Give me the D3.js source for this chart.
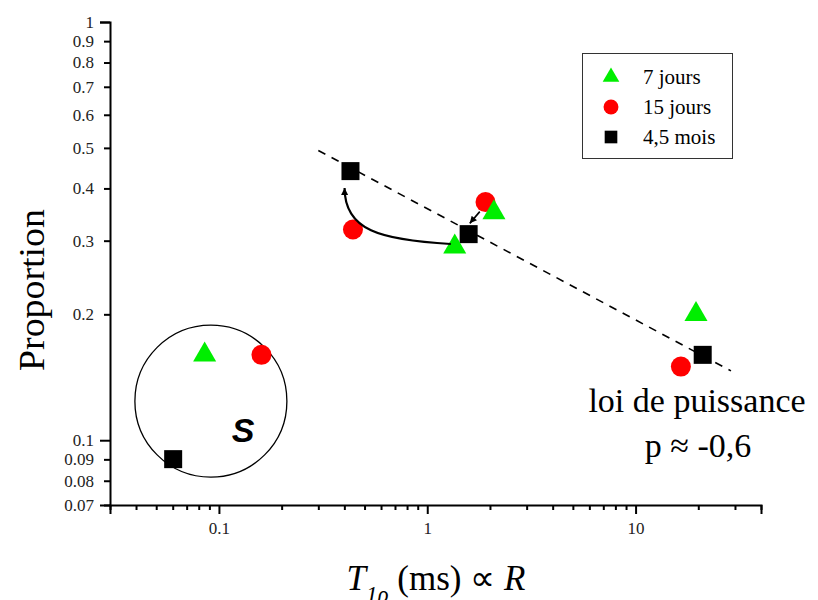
<!DOCTYPE html>
<html>
<head>
<meta charset="utf-8">
<script src="https://cdn.jsdelivr.net/npm/d3@7"></script>
<style>
  body { margin: 0; background: #fff; }
  svg { display: block; }
  .axis path, .axis line { stroke: #000; stroke-width: 2; }
</style>
</head>
<body>
<svg id="chart" width="818" height="600"></svg>
<script>
// tick values
const xTicks = [0.03, 0.04, 0.05, 0.06, 0.07, 0.08, 0.09, 0.1, 0.2, 0.3, 0.4, 0.5, 0.6, 0.7, 0.8, 0.9,
                1, 2, 3, 4, 5, 6, 7, 8, 9, 10, 20, 30, 40];
const xMajor = [0.1, 1, 10];
const yTicks = [0.07, 0.08, 0.09, 0.1, 0.2, 0.3, 0.4, 0.5, 0.6, 0.7, 0.8, 0.9, 1];
const yMajor = [0.1, 1];

// series
const seriesNames = ["7 jours", "15 jours", "4,5 mois"];
const jours7X = [0.0854, 1.355, 2.09, 19.5];
const jours7Y = [0.160, 0.290, 0.350, 0.200];
const jours15X = [0.160, 0.440, 1.904, 16.5];
const jours15Y = [0.160, 0.319, 0.371, 0.150];
const mois45X = [0.0603, 0.428, 1.58, 21.0];
const mois45Y = [0.0901, 0.440, 0.311, 0.160];

// power law fit line
const fitX = [0.3, 28.7];
const fitY = [0.493, 0.1465];

// annotations (data units)
const clusterCenter = [0.0915, 0.124];
const curveArrowX = [1.297, 0.591, 0.401, 0.401];
const curveArrowY = [0.2946, 0.301, 0.318, 0.401];
const smallArrowX = [1.787, 1.60];
const smallArrowY = [0.352, 0.330];

const svg = d3.select("#chart");

const x = d3.scaleLog().domain([0.03, 40]).range([110, 761]);
const y = d3.scaleLog().domain([0.07, 1]).range([505, 22]);

// x axis
const xAxis = svg.append("g")
    .attr("class", "axis")
    .attr("transform", "translate(0,505)")
    .call(d3.axisBottom(x)
        .tickValues(xTicks)
        .tickSizeOuter(0)
        .tickSize(9)
        .tickPadding(8)
        .tickFormat(d => xMajor.includes(d) ? String(d) : ""));
xAxis.attr("font-family", "Liberation Serif, serif").attr("font-size", 17);
xAxis.selectAll(".tick text").attr("fill", "#222");
xAxis.selectAll(".tick line")
    .attr("y2", d => xMajor.includes(d) ? 9 : 5);

// y axis
const yAxis = svg.append("g")
    .attr("class", "axis")
    .attr("transform", "translate(110,0)")
    .call(d3.axisLeft(y)
        .tickValues(yTicks)
        .tickSizeOuter(0)
        .tickSize(10)
        .tickPadding(6)
        .tickFormat(d => String(d)));
yAxis.attr("font-family", "Liberation Serif, serif").attr("font-size", 17);
yAxis.selectAll(".tick text").attr("fill", "#222");
yAxis.selectAll(".tick line")
    .attr("x2", d => yMajor.includes(d) ? -10 : -6);

// axis titles
svg.append("text")
    .attr("transform", "translate(44,290) rotate(-90)")
    .attr("text-anchor", "middle")
    .attr("font-family", "Liberation Serif, serif")
    .attr("font-size", 35)
    .attr("textLength", 162)
    .attr("lengthAdjust", "spacingAndGlyphs")
    .text("Proportion");

const xTitle = svg.append("text")
    .attr("x", 436)
    .attr("y", 590)
    .attr("text-anchor", "middle")
    .attr("font-family", "Liberation Serif, serif")
    .attr("font-size", 35);
xTitle.append("tspan").attr("font-style", "italic").text("T");
xTitle.append("tspan").attr("font-style", "italic").attr("font-size", 23).attr("dy", 12).text("1ρ");
xTitle.append("tspan").attr("dy", -12).text(" (ms) ∝ ");
xTitle.append("tspan").attr("font-style", "italic").text("R");

// arrow marker
const defs = svg.append("defs");
defs.append("marker")
    .attr("id", "head")
    .attr("markerUnits", "userSpaceOnUse")
    .attr("viewBox", "0 0 10 10")
    .attr("refX", 10)
    .attr("refY", 5)
    .attr("markerWidth", 8)
    .attr("markerHeight", 7)
    .attr("orient", "auto")
    .append("path")
    .attr("d", "M0,0 L10,5 L0,10 Z")
    .attr("fill", "#000");

// fit line
svg.append("line")
    .attr("x1", x(fitX[0])).attr("y1", y(fitY[0]))
    .attr("x2", x(fitX[1])).attr("y2", y(fitY[1]))
    .attr("stroke", "#000")
    .attr("stroke-width", 1.6)
    .attr("stroke-dasharray", "8,7");

// cluster circle
svg.append("circle")
    .attr("cx", x(clusterCenter[0]))
    .attr("cy", y(clusterCenter[1]))
    .attr("r", 76)
    .attr("fill", "none")
    .attr("stroke", "#000")
    .attr("stroke-width", 1.3);

svg.append("text")
    .attr("x", 243)
    .attr("y", 442)
    .attr("text-anchor", "middle")
    .attr("font-family", "Liberation Sans, Arial, sans-serif")
    .attr("font-weight", "bold")
    .attr("font-style", "italic")
    .attr("font-size", 34)
    .text("S");

// points
const sqSize = 18;
svg.append("g").selectAll("rect")
    .data(mois45X.map((v, i) => [v, mois45Y[i]]))
    .join("rect")
    .attr("x", d => x(d[0]) - sqSize / 2)
    .attr("y", d => y(d[1]) - sqSize / 2)
    .attr("width", sqSize)
    .attr("height", sqSize)
    .attr("fill", "#000");

svg.append("g").selectAll("circle")
    .data(jours15X.map((v, i) => [v, jours15Y[i]]))
    .join("circle")
    .attr("cx", d => x(d[0]))
    .attr("cy", d => y(d[1]))
    .attr("r", 10)
    .attr("fill", "#ff0000");

const tri = d3.symbol().type(d3.symbolTriangle).size(230);
svg.append("g").selectAll("path")
    .data(jours7X.map((v, i) => [v, jours7Y[i]]))
    .join("path")
    .attr("d", tri)
    .attr("transform", d => `translate(${x(d[0])},${y(d[1])})`)
    .attr("fill", "#00ee00");

// arrows
const cp = curveArrowX.map((v, i) => [x(v), y(curveArrowY[i])]);
svg.append("path")
    .attr("d", `M${cp[0]} C${cp[1]} ${cp[2]} ${cp[3]}`)
    .attr("fill", "none")
    .attr("stroke", "#000")
    .attr("stroke-width", 2.2)
    .attr("marker-end", "url(#head)");

svg.append("line")
    .attr("x1", x(smallArrowX[0])).attr("y1", y(smallArrowY[0]))
    .attr("x2", x(smallArrowX[1])).attr("y2", y(smallArrowY[1]))
    .attr("stroke", "#000")
    .attr("stroke-width", 1.6)
    .attr("marker-end", "url(#head)");

// power law note
svg.append("text")
    .attr("x", 697)
    .attr("y", 412)
    .attr("text-anchor", "middle")
    .attr("font-family", "Liberation Serif, serif")
    .attr("font-size", 34)
    .text("loi de puissance");
svg.append("text")
    .attr("x", 698)
    .attr("y", 457)
    .attr("text-anchor", "middle")
    .attr("font-family", "Liberation Serif, serif")
    .attr("font-size", 34)
    .text("p ≈ -0,6");

// legend
const legend = svg.append("g");
legend.append("rect")
    .attr("x", 582.5).attr("y", 53.5)
    .attr("width", 150).attr("height", 105)
    .attr("fill", "#fff")
    .attr("stroke", "#333")
    .attr("stroke-width", 1);

const legendSym = [
    d3.symbol().type(d3.symbolTriangle).size(120),
    d3.symbol().type(d3.symbolCircle).size(175),
    d3.symbol().type(d3.symbolSquare).size(160)
];
const legendColors = ["#00ee00", "#ff0000", "#000"];
seriesNames.forEach((name, i) => {
    const cy = 77 + i * 30;
    legend.append("path")
        .attr("d", legendSym[i])
        .attr("transform", `translate(611,${cy})`)
        .attr("fill", legendColors[i]);
    legend.append("text")
        .attr("x", 643)
        .attr("y", cy + 7)
        .attr("font-family", "Liberation Serif, serif")
        .attr("font-size", 21)
        .text(name);
});
</script>
</body>
</html>
